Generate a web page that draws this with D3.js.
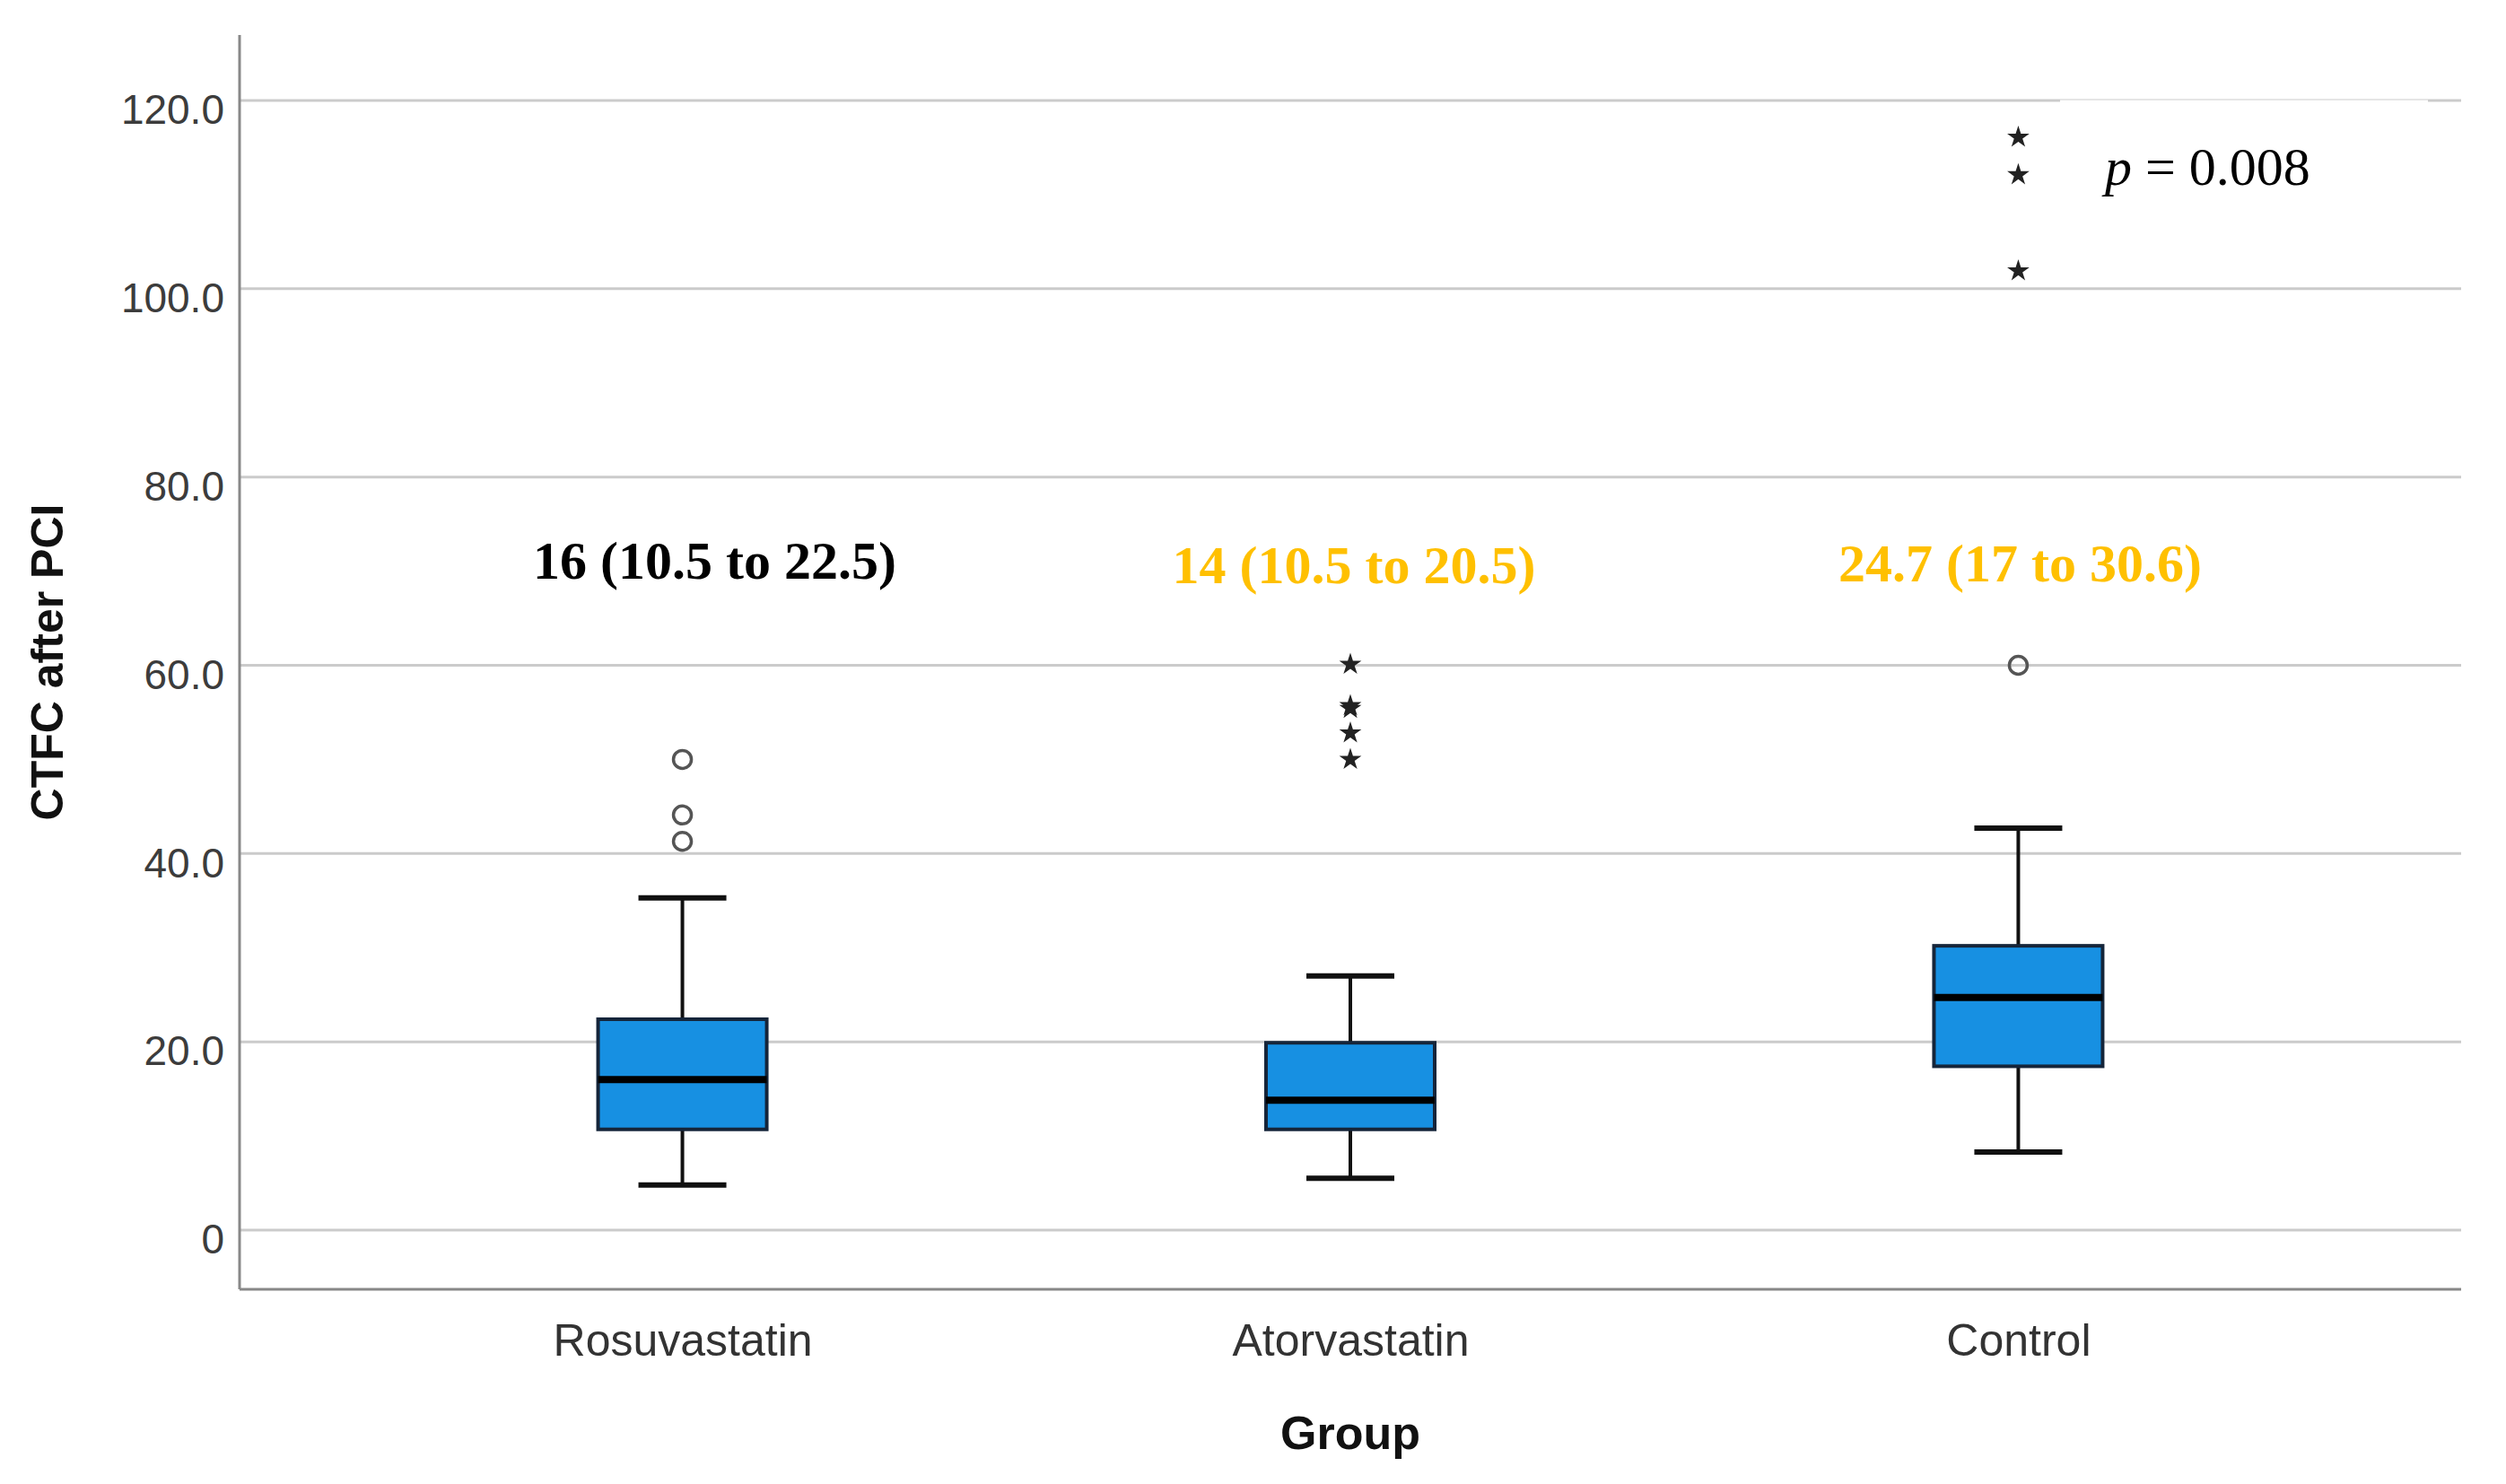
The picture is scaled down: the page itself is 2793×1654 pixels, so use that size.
<!DOCTYPE html>
<html>
<head>
<meta charset="utf-8">
<script src="https://cdn.jsdelivr.net/npm/d3@7"></script>
<style>
  body { margin: 0; background: #fff; }
  svg { display: block; }
</style>
</head>
<body>
<div id="chart"></div>
<script>
// data
let groups = ["Rosuvastatin", "Atorvastatin", "Control"];
let q1 = [10.7, 10.7, 17.4];
let medians = [16, 13.8, 24.7];
let q3 = [22.4, 19.9, 30.2];
let whiskerLow = [4.8, 5.5, 8.3];
let whiskerHigh = [35.3, 27.0, 42.7];
// outliers (circles) and extremes (stars)
let circleOutliers = [[50, 44.1, 41.3], [], [60]];
let starOutliers = [[], [60.1, 55.7, 55.4, 52.8, 50.0], [116.1, 112.1, 101.9]];
let yTicks = [0, 20, 40, 60, 80, 100, 120];
let annotations = ["16 (10.5 to 22.5)", "14 (10.5 to 20.5)", "24.7 (17 to 30.6)"];
let annotationColors = ["#000000", "#FFC000", "#FFC000"];

let w = 2793;
let h = 1654;
let plotLeft = 267, plotRight = 2743, plotTop = 39, axisY = 1437;

let viz = d3.select("#chart")
  .append("svg")
  .attr("width", w)
  .attr("height", h);

let xScale = d3.scalePoint()
  .domain(groups)
  .range([plotLeft, plotRight])
  .padding(0.663);

let yScale = d3.scaleLinear()
  .domain([0, 120])
  .range([1371, 112]);

// grid lines
viz.append("g")
  .selectAll("line")
  .data(yTicks)
  .enter()
  .append("line")
  .attr("x1", plotLeft)
  .attr("x2", plotRight)
  .attr("y1", d => yScale(d))
  .attr("y2", d => yScale(d))
  .attr("stroke", "#cbcbcb")
  .attr("stroke-width", 3);

// white box that hides part of the top grid line behind the p value
viz.append("rect")
  .attr("x", 2296)
  .attr("y", yScale(120) - 0.5)
  .attr("width", 410)
  .attr("height", 150)
  .attr("fill", "#fff");

// y axis labels
let yAxis = d3.axisLeft(yScale)
  .tickValues(yTicks)
  .tickSize(0)
  .tickPadding(17)
  .tickFormat(d => d === 0 ? "0" : d3.format(".1f")(d));
let yAxisGroup = viz.append("g")
  .attr("transform", "translate(" + plotLeft + ",0)")
  .call(yAxis);
yAxisGroup.select(".domain").remove();
yAxisGroup.selectAll("text")
  .attr("font-family", "Liberation Sans, Arial, sans-serif")
  .attr("font-size", 46)
  .attr("fill", "#3c3c3c")
  .attr("dy", "0.56em");

// x axis labels
let xAxis = d3.axisBottom(xScale)
  .tickSize(0)
  .tickPadding(38);
let xAxisGroup = viz.append("g")
  .attr("transform", "translate(0," + axisY + ")")
  .call(xAxis);
xAxisGroup.select(".domain").remove();
xAxisGroup.selectAll("text")
  .attr("font-family", "Liberation Sans, Arial, sans-serif")
  .attr("font-size", 50)
  .attr("fill", "#333");

// axis lines
viz.append("line")
  .attr("x1", plotLeft).attr("x2", plotLeft)
  .attr("y1", plotTop).attr("y2", axisY)
  .attr("stroke", "#888").attr("stroke-width", 3);
viz.append("line")
  .attr("x1", plotLeft).attr("x2", plotRight)
  .attr("y1", axisY).attr("y2", axisY)
  .attr("stroke", "#888").attr("stroke-width", 3);

// axis titles
viz.append("text")
  .attr("transform", "translate(70,738) rotate(-90)")
  .attr("text-anchor", "middle")
  .attr("font-family", "Liberation Sans, Arial, sans-serif")
  .attr("font-weight", "bold")
  .attr("font-size", 50)
  .attr("fill", "#111")
  .text("CTFC after PCI");

viz.append("text")
  .attr("x", xScale("Atorvastatin"))
  .attr("y", 1615)
  .attr("text-anchor", "middle")
  .attr("font-family", "Liberation Sans, Arial, sans-serif")
  .attr("font-weight", "bold")
  .attr("font-size", 52)
  .attr("fill", "#111")
  .text("Group");

// boxes
let boxW = 188;
let capW = 98;
let boxes = viz.append("g")
  .selectAll(".box")
  .data(groups)
  .enter()
  .append("g")
  .classed("box", true)
  .attr("transform", d => "translate(" + xScale(d) + ",0)");

boxes.append("line")
  .attr("x1", 0).attr("x2", 0)
  .attr("y1", (d, i) => yScale(whiskerHigh[i]))
  .attr("y2", (d, i) => yScale(whiskerLow[i]))
  .attr("stroke", "#111").attr("stroke-width", 4);

boxes.selectAll(".cap")
  .data((d, i) => [whiskerLow[i], whiskerHigh[i]])
  .enter()
  .append("line")
  .attr("x1", -capW / 2).attr("x2", capW / 2)
  .attr("y1", d => yScale(d)).attr("y2", d => yScale(d))
  .attr("stroke", "#111").attr("stroke-width", 6);

boxes.append("rect")
  .attr("x", -boxW / 2)
  .attr("width", boxW)
  .attr("y", (d, i) => yScale(q3[i]))
  .attr("height", (d, i) => yScale(q1[i]) - yScale(q3[i]))
  .attr("fill", "#1790e2")
  .attr("stroke", "#15253a")
  .attr("stroke-width", 4);

boxes.append("line")
  .attr("x1", -boxW / 2).attr("x2", boxW / 2)
  .attr("y1", (d, i) => yScale(medians[i]))
  .attr("y2", (d, i) => yScale(medians[i]))
  .attr("stroke", "#000").attr("stroke-width", 8);

// outliers
boxes.selectAll(".circ")
  .data((d, i) => circleOutliers[i])
  .enter()
  .append("circle")
  .attr("cx", 0)
  .attr("cy", d => yScale(d))
  .attr("r", 10)
  .attr("fill", "none")
  .attr("stroke", "#555")
  .attr("stroke-width", 3.5);

let star = d3.symbol().type(d3.symbolStar).size(190);
boxes.selectAll(".star")
  .data((d, i) => starOutliers[i])
  .enter()
  .append("path")
  .attr("d", star)
  .attr("transform", d => "translate(0," + yScale(d) + ")")
  .attr("fill", "#222");

// median (IQR) annotations
viz.append("g")
  .selectAll("text")
  .data(groups)
  .enter()
  .append("text")
  .attr("x", (d, i) => xScale(d) + [36, 4, 2][i])
  .attr("y", (d, i) => [645, 650, 648][i])
  .attr("text-anchor", "middle")
  .attr("font-family", "Liberation Serif, Times New Roman, serif")
  .attr("font-weight", "bold")
  .attr("font-size", 60)
  .attr("fill", (d, i) => annotationColors[i])
  .text((d, i) => annotations[i]);

// p value
let pText = viz.append("text")
  .attr("x", 2346)
  .attr("y", 206)
  .attr("font-family", "Liberation Serif, Times New Roman, serif")
  .attr("font-size", 60)
  .attr("fill", "#000");
pText.append("tspan").attr("font-style", "italic").text("p");
pText.append("tspan").text(" = 0.008");
</script>
</body>
</html>
